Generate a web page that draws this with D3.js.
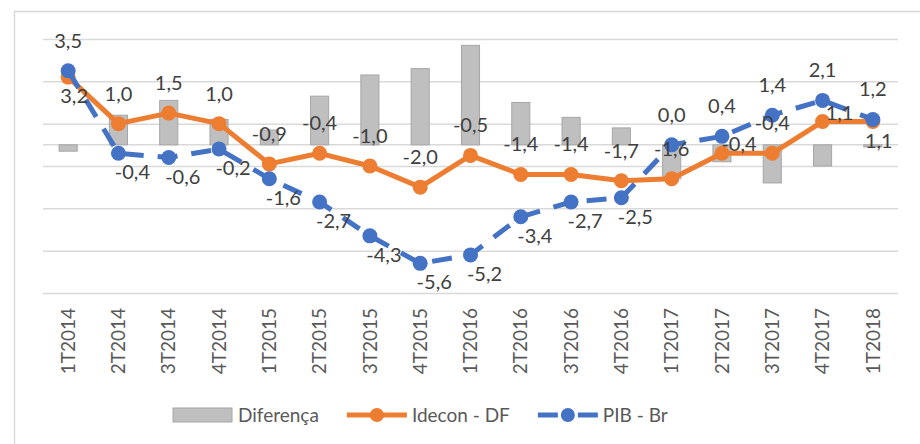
<!DOCTYPE html>
<html>
<head>
<meta charset="utf-8">
<script src="https://cdn.jsdelivr.net/npm/d3@7"></script>
<style>
  body { margin: 0; background: #fff; }
  svg { display: block; font-family: Lato, "Open Sans", sans-serif; }
</style>
</head>
<body>
<div id="chart"></div>
<script>
// quarters on the x axis
const categories = ["1T2014", "2T2014", "3T2014", "4T2014", "1T2015", "2T2015", "3T2015", "4T2015",
    "1T2016", "2T2016", "3T2016", "4T2016", "1T2017", "2T2017", "3T2017", "4T2017", "1T2018"];

// series values
const diferenca = [-0.3, 1.4, 2.1, 1.2, 0.7, 2.3, 3.3, 3.6, 4.7, 2.0, 1.3, 0.8, -1.6, -0.8, -1.8, -1.0, -0.1];
const idecon = [3.2, 1.0, 1.5, 1.0, -0.9, -0.4, -1.0, -2.0, -0.5, -1.4, -1.4, -1.7, -1.6, -0.4, -0.4, 1.1, 1.1];
const pib = [3.5, -0.4, -0.6, -0.2, -1.6, -2.7, -4.3, -5.6, -5.2, -3.4, -2.7, -2.5, 0.0, 0.4, 1.4, 2.1, 1.2];

// gridline values (axis -7 .. 5, step 2)
const yTicks = [5, 3, 1, -1, -3, -5, -7];

const legendNames = ["Diferença", "Idecon - DF", "PIB - Br"];

const W = 920, H = 444;
const margin = { top: 39, right: 22, bottom: 151, left: 43 };
const width = W - margin.left - margin.right;
const height = H - margin.top - margin.bottom;

const colors = { bar: "#bfbfbf", barStroke: "#a6a6a6", orange: "#ed7d31", blue: "#4472c4", grid: "#d9d9d9", text: "#404040" };

const svg = d3.select("#chart").append("svg")
    .attr("width", W)
    .attr("height", H);

// chart area border
svg.append("rect")
    .attr("x", 14.5).attr("y", 11.5)
    .attr("width", W).attr("height", H)
    .attr("fill", "#fff")
    .attr("stroke", colors.grid)
    .attr("stroke-width", 1.5);

const g = svg.append("g")
    .attr("transform", `translate(${margin.left},${margin.top})`);

const x = d3.scaleBand().domain(categories).range([0, width]).padding(0);
const y = d3.scaleLinear().domain([-7, 5]).range([height, 0]);
const cx = d => x(d) + x.bandwidth() / 2;

// gridlines
const grid = g.append("g")
    .call(d3.axisLeft(y).tickValues(yTicks).tickSize(-width).tickFormat(""));
grid.select(".domain").remove();
grid.selectAll("line").attr("stroke", colors.grid).attr("stroke-width", 1.5);

// horizontal axis at zero
g.append("line")
    .attr("x1", 0).attr("x2", width)
    .attr("y1", y(0)).attr("y2", y(0))
    .attr("stroke", colors.grid)
    .attr("stroke-width", 1.5);

// bars
const barW = x.bandwidth() * 0.36;
g.selectAll(".bar")
    .data(categories)
    .join("rect")
    .attr("class", "bar")
    .attr("x", d => cx(d) - barW / 2)
    .attr("y", (d, i) => y(Math.max(0, diferenca[i])))
    .attr("width", barW)
    .attr("height", (d, i) => Math.abs(y(diferenca[i]) - y(0)))
    .attr("fill", colors.bar)
    .attr("stroke", colors.barStroke)
    .attr("stroke-width", 1);

// lines
const line = d3.line()
    .x(d => cx(d.cat))
    .y(d => y(d.v));

const orangeData = categories.map((c, i) => ({ cat: c, v: idecon[i], other: pib[i] }));
const blueData = categories.map((c, i) => ({ cat: c, v: pib[i] }));

g.append("path")
    .datum(orangeData)
    .attr("fill", "none")
    .attr("stroke", colors.orange)
    .attr("stroke-width", 5)
    .attr("stroke-linejoin", "round")
    .attr("d", line);

g.selectAll(".dot-o")
    .data(orangeData)
    .join("circle")
    .attr("class", "dot-o")
    .attr("cx", d => cx(d.cat))
    .attr("cy", d => y(d.v))
    .attr("r", 7.5)
    .attr("fill", colors.orange);

g.append("path")
    .datum(blueData)
    .attr("fill", "none")
    .attr("stroke", colors.blue)
    .attr("stroke-width", 5)
    .attr("stroke-dasharray", "20,14")
    .attr("d", line);

g.selectAll(".dot-b")
    .data(blueData)
    .join("circle")
    .attr("class", "dot-b")
    .attr("cx", d => cx(d.cat))
    .attr("cy", d => y(d.v))
    .attr("r", 7.5)
    .attr("fill", colors.blue);

// data labels, Portuguese decimal comma and plain hyphen minus
const ptBR = d3.formatLocale({ decimal: ",", thousands: ".", grouping: [3], currency: ["R$", ""], minus: "-" });
const fmt = ptBR.format(".1f");

// orange label placement depends on how close the blue point sits above it
function orangePos(d) {
    const gap = d.other - d.v;
    if (gap > 0 && gap < 0.5) return { dx: 6, dy: 19 };     // below
    if (gap >= 0.5 && gap <= 1.0) return { dx: 17, dy: -9 }; // right
    return { dx: 0, dy: -30 };                              // above
}

g.selectAll(".lab-o")
    .data(orangeData)
    .join("text")
    .attr("class", "lab-o")
    .attr("x", d => cx(d.cat) + orangePos(d).dx)
    .attr("y", d => y(d.v) + orangePos(d).dy)
    .attr("dy", "0.35em")
    .attr("text-anchor", "middle")
    .attr("fill", colors.text)
    .style("font-size", "20px")
    .text(d => fmt(d.v));

// blue labels: above when >= 0, below-right when negative
g.selectAll(".lab-b")
    .data(blueData)
    .join("text")
    .attr("class", "lab-b")
    .attr("x", d => cx(d.cat) + (d.v >= 0 ? 0 : 14))
    .attr("y", d => y(d.v) + (d.v >= 0 ? -30 : 19))
    .attr("dy", "0.35em")
    .attr("text-anchor", "middle")
    .attr("fill", colors.text)
    .style("font-size", "20px")
    .text(d => fmt(d.v));

// x axis labels
const xAxis = g.append("g")
    .attr("transform", `translate(0,${height})`)
    .call(d3.axisBottom(x).tickSize(0));
xAxis.select(".domain").remove();
xAxis.selectAll("text")
    .attr("transform", "translate(0,15) rotate(-90)")
    .attr("x", 0).attr("y", 0)
    .attr("dy", "0.35em")
    .attr("text-anchor", "end")
    .attr("fill", "#595959")
    .style("font-size", "19px")
    .style("font-family", "Lato, sans-serif");

// legend
const legend = svg.append("g").attr("transform", "translate(173,415)");
let lx = 0;
legendNames.forEach((name, i) => {
    const item = legend.append("g").attr("transform", `translate(${lx},0)`);
    if (i === 0) {
        item.append("rect")
            .attr("x", 0).attr("y", -7)
            .attr("width", 59).attr("height", 14)
            .attr("fill", colors.bar)
            .attr("stroke", colors.barStroke);
    } else {
        const c = i === 1 ? colors.orange : colors.blue;
        item.append("line")
            .attr("x1", 0).attr("x2", 60)
            .attr("y1", 0).attr("y2", 0)
            .attr("stroke", c)
            .attr("stroke-width", 5)
            .attr("stroke-dasharray", i === 2 ? "20,20" : null);
        item.append("circle")
            .attr("cx", 30).attr("cy", 0)
            .attr("r", 7)
            .attr("fill", c);
    }
    const t = item.append("text")
        .attr("x", 65).attr("y", 0)
        .attr("dy", "0.35em")
        .attr("fill", "#595959")
        .style("font-size", "19px")
        .text(name);
    lx += 65 + t.node().getComputedTextLength() + 28;
});
</script>
</body>
</html>
